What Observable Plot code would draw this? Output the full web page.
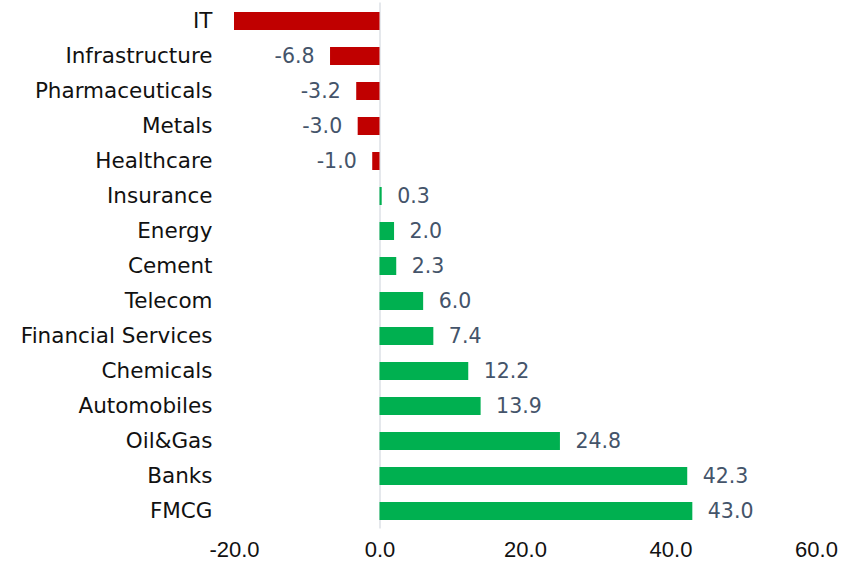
<!DOCTYPE html>
<html>
<head>
<meta charset="utf-8">
<script src="https://cdn.jsdelivr.net/npm/d3@7"></script>
<script src="https://cdn.jsdelivr.net/npm/@observablehq/plot@0.6"></script>
<style>
  html, body { margin: 0; padding: 0; background: #fff; }
  g[aria-label="values"] text { letter-spacing: 1px; }
</style>
</head>
<body>
<div id="chart"></div>
<script>
const sectors = ["IT", "Infrastructure", "Pharmaceuticals", "Metals", "Healthcare", "Insurance", "Energy", "Cement", "Telecom", "Financial Services", "Chemicals", "Automobiles", "Oil&Gas", "Banks", "FMCG"];
const values = [-20.0, -6.8, -3.2, -3.0, -1.0, 0.3, 2.0, 2.3, 6.0, 7.4, 12.2, 13.9, 24.8, 42.3, 43.0];
const xTicks = [-20, 0, 20, 40, 60];

const data = sectors.map((s, i) => ({sector: s, value: values[i]}));
const labeled = data.filter(d => d.sector !== "IT");

const chart = Plot.plot({
  width: 858,
  height: 576,
  marginLeft: 234,
  marginRight: 42,
  marginTop: 2.5,
  marginBottom: 47.5,
  style: {fontFamily: "DejaVu Sans", background: "#fff"},
  x: {domain: [-20, 60], ticks: xTicks, label: null},
  y: {domain: sectors, label: null, paddingInner: 0.5, paddingOuter: 0.25},
  marks: [
    Plot.ruleX([0], {stroke: "#dde1e6", strokeWidth: 1.5}),
    Plot.barX(data, {x: "value", y: "sector", fill: d => d.value < 0 ? "#C00000" : "#00B050"}),
    Plot.text(labeled.filter(d => d.value < 0), {x: "value", y: "sector", text: d => d.value.toFixed(1), textAnchor: "end", dx: -16, fill: "#44546A", fontSize: 20.5, ariaLabel: "values"}),
    Plot.text(labeled.filter(d => d.value >= 0), {x: "value", y: "sector", text: d => d.value.toFixed(1), textAnchor: "start", dx: 15, fill: "#44546A", fontSize: 20.5, ariaLabel: "values"}),
    Plot.axisY({tickSize: 0, tickPadding: 22, fontSize: 21.5, fill: "#111", label: null}),
    Plot.axisX({ticks: xTicks, tickFormat: d => d.toFixed(1), tickSize: 0, tickPadding: 12, fontSize: 22, fontFamily: "Liberation Sans", fill: "#111", label: null})
  ]
});
document.getElementById("chart").append(chart);
</script>
</body>
</html>
